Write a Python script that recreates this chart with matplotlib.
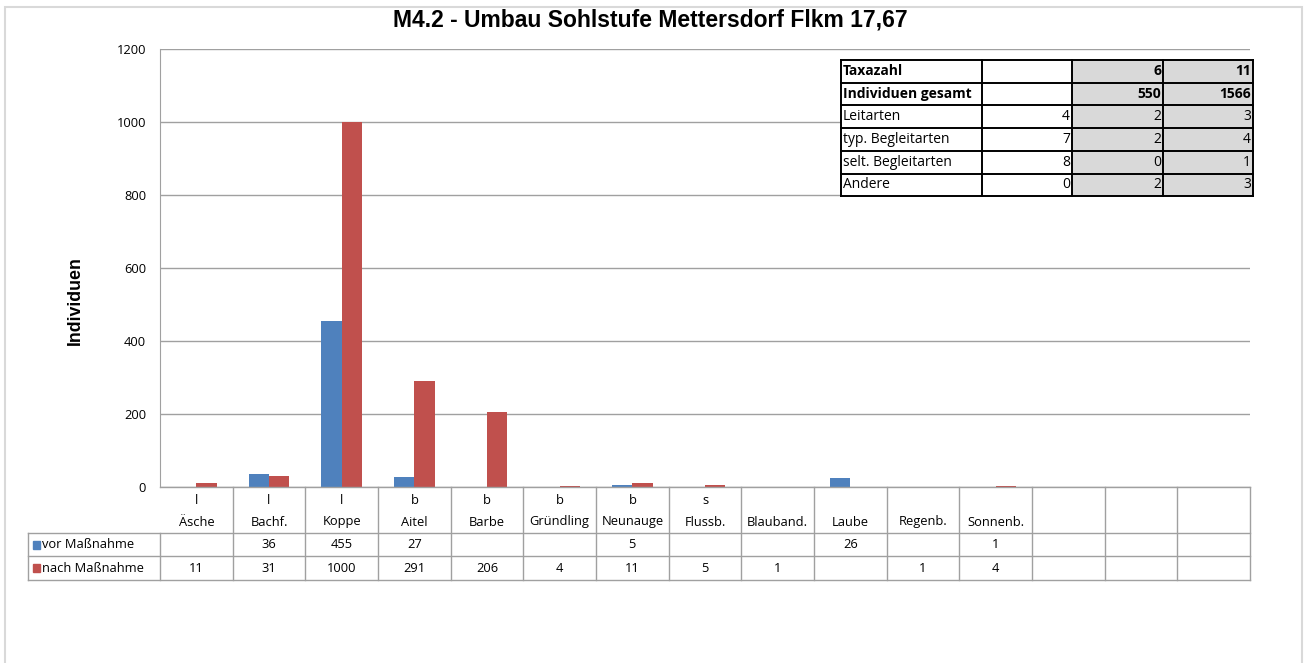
"""M4.2 Sohlstufe Mettersdorf — Fischbestand vor/nach Maßnahme (Excel-Nachbau)."""
import matplotlib
matplotlib.use("Agg")
import matplotlib.pyplot as plt
import matplotlib.transforms as mtransforms
from matplotlib.lines import Line2D
from matplotlib.patches import Rectangle
import numpy as np

plt.rcParams["font.family"] = ["Open Sans", "DejaVu Sans"]

# --- Daten ---
arten = ["Äsche", "Bachf.", "Koppe", "Aitel", "Barbe", "Gründling", "Neunauge",
         "Flussb.", "Blauband.", "Laube", "Regenb.", "Sonnenb.", "", "", ""]
gilde = ["l", "l", "l", "b", "b", "b", "b", "s", "", "", "", "", "", "", ""]
vor = [np.nan, 36, 455, 27, np.nan, np.nan, 5, np.nan, np.nan, 26, np.nan, 1,
       np.nan, np.nan, np.nan]
nach = [11, 31, 1000, 291, 206, 4, 11, 5, 1, np.nan, 1, 4,
        np.nan, np.nan, np.nan]
serien = ["vor Maßnahme", "nach Maßnahme"]
farben = ["#4F81BD", "#C0504D"]

# Übersichtstabelle rechts oben
tab_labels = ["Taxazahl", "Individuen gesamt", "Leitarten", "typ. Begleitarten",
              "selt. Begleitarten", "Andere"]
tab_ref = ["", "", "4", "7", "8", "0"]
tab_vor = ["6", "550", "2", "2", "0", "2"]
tab_nach = ["11", "1566", "3", "4", "1", "3"]

W, H = 1307, 663
fig = plt.figure(figsize=(W / 100, H / 100), dpi=100)
fx = lambda x: x / W
fy = lambda y: 1 - y / H
fs = 9.3

ax = fig.add_axes([fx(160), fy(487), fx(1250) - fx(160), fy(49) - fy(487)])
x = np.arange(len(arten))
w = 0.28
ax.bar(x - w / 2, vor, w, color=farben[0], zorder=3)
ax.bar(x + w / 2, nach, w, color=farben[1], zorder=3)
ax.set_xlim(-0.5, len(arten) - 0.5)
ax.set_ylim(0, 1200)
ax.set_yticks(range(0, 1201, 200))
ax.set_xticks([])
ax.tick_params(axis="y", length=0, pad=10, labelsize=fs)
ax.grid(axis="y", color="#A0A0A0", lw=1, zorder=0)
for s in ["top", "right", "bottom"]:
    ax.spines[s].set_visible(False)
ax.spines["left"].set_color("#A0A0A0")
fig.text(fx(75), fy(301), "Individuen", rotation=90, ha="center", va="center",
         fontsize=12.8, fontweight="bold", family=["Liberation Sans"])
fig.text(fx(650), fy(20), "M4.2 - Umbau Sohlstufe Mettersdorf Flkm 17,67",
         ha="center", va="center", fontsize=16.5, fontweight="bold",
         family=["Liberation Sans"])

# --- Datentabelle unter dem Diagramm ---
tr = mtransforms.blended_transform_factory(ax.transData, fig.transFigure)
lc = "#A0A0A0"
y_top, y_h, y_r1, y_r2 = 487, 533, 556, 580
for i in range(len(arten) + 1):
    xe = i - 0.5
    y0 = y_top if i > 0 else y_h
    ax.add_line(Line2D([xe, xe], [fy(y0), fy(y_r2)], transform=tr, color=lc,
                       lw=1, clip_on=False))
for yy in [y_h, y_r1, y_r2]:
    fig.add_artist(Line2D([fx(28), fx(1250)], [fy(yy), fy(yy)], color=lc, lw=1))
fig.add_artist(Line2D([fx(160), fx(1250)], [fy(y_top), fy(y_top)], color=lc, lw=1))
fig.add_artist(Line2D([fx(28), fx(28)], [fy(y_h), fy(y_r2)], color=lc, lw=1))

for i in range(len(arten)):
    ax.text(i, fy(500), gilde[i], transform=tr, ha="center", va="center",
            fontsize=fs)
    ax.text(i, fy(522), arten[i], transform=tr, ha="center", va="center",
            fontsize=fs)
    for vals, yy in [(vor, 545), (nach, 568)]:
        if not np.isnan(vals[i]):
            ax.text(i, fy(yy), f"{vals[i]:.0f}", transform=tr, ha="center",
                    va="center", fontsize=fs)
for name, col, yy in zip(serien, farben, [545, 568]):
    fig.add_artist(Rectangle((fx(33), fy(yy + 4)), fx(7), 8 / H, color=col))
    fig.text(fx(42), fy(yy), name, ha="left", va="center", fontsize=fs)

# --- Übersichtstabelle ---
cols = [841, 982, 1072, 1163, 1253]
rt, rh = 60, 22.7
nrow = len(tab_labels)
fig.add_artist(Rectangle((fx(cols[0]), fy(rt + nrow * rh)), fx(cols[4] - cols[0]),
                         nrow * rh / H, facecolor="white", edgecolor="none", zorder=4))
fig.add_artist(Rectangle((fx(cols[2]), fy(rt + nrow * rh)), fx(cols[4] - cols[2]),
                         nrow * rh / H, facecolor="#D9D9D9", edgecolor="none", zorder=4))
for c in cols:
    fig.add_artist(Line2D([fx(c), fx(c)], [fy(rt), fy(rt + nrow * rh)],
                          color="black", lw=1.4, zorder=5))
for r in range(nrow + 1):
    yy = rt + r * rh
    fig.add_artist(Line2D([fx(cols[0]), fx(cols[4])], [fy(yy), fy(yy)],
                          color="black", lw=1.4, zorder=5))
for r in range(nrow):
    yc = fy(rt + (r + 0.5) * rh)
    fw = "bold" if r < 2 else "normal"
    fig.text(fx(cols[0] + 2), yc, tab_labels[r], ha="left", va="center",
             fontsize=10, fontweight=fw, zorder=6)
    for j, vals in enumerate([tab_ref, tab_vor, tab_nach]):
        fig.text(fx(cols[j + 2] - 2), yc, vals[r], ha="right", va="center",
                 fontsize=10, fontweight=fw, zorder=6)

# Rahmen
fig.add_artist(Rectangle((fx(5), fy(680)), fx(1297), 673 / H, facecolor="none",
                         edgecolor="#D9D9D9", lw=1.5))

fig.savefig("out.png", dpi=100)
